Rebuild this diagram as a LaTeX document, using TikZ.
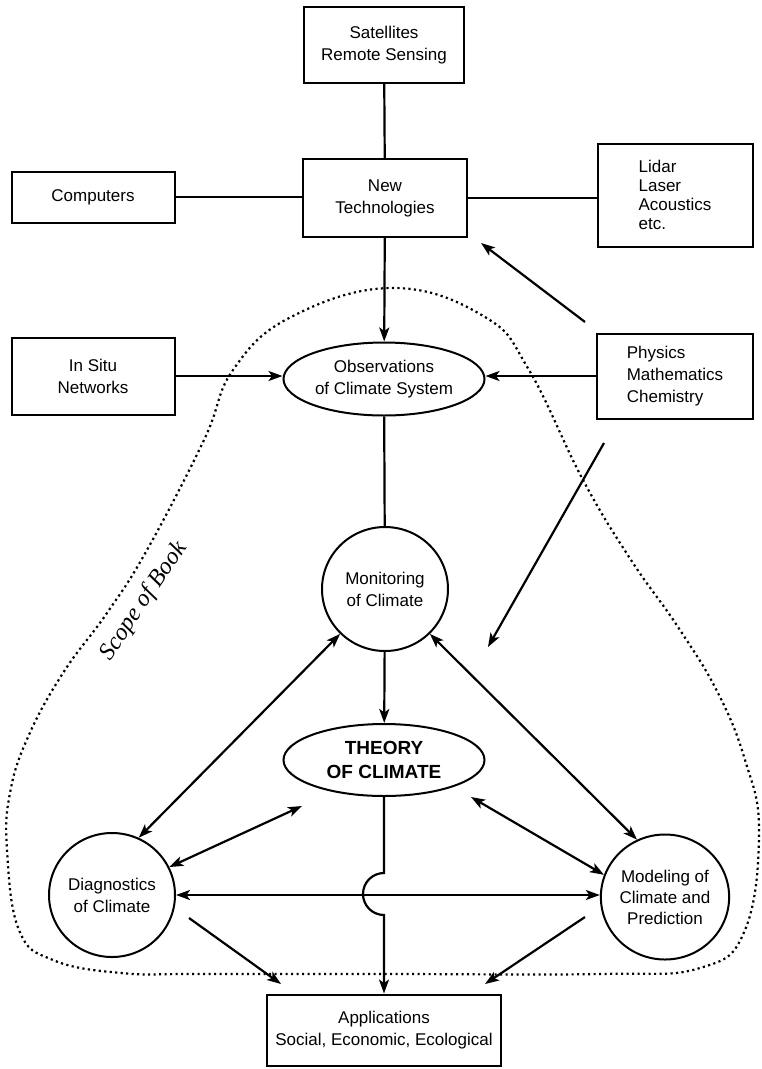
\documentclass[tikz,border=0pt]{standalone}
\usepackage{fontspec}
\setmainfont{Liberation Sans}
\newfontfamily\scopefont{Liberation Serif}
\usetikzlibrary{arrows.meta,positioning,shapes.geometric}

\newcommand{\labelfont}{\fontsize{17}{22}\selectfont}
\newcommand{\theoryfont}{\fontsize{19}{24}\selectfont\bfseries}

\tikzset{
  box/.style={draw, line width=2pt, align=center, inner sep=2pt},
  oval/.style={draw, ellipse, line width=2pt, align=center, inner sep=0pt},
  link/.style={line width=2.2pt},
  arr/.style={link, -{Stealth[length=14pt,width=10pt,inset=3.5pt]}},
  darr/.style={link, {Stealth[length=14pt,width=10pt,inset=3.5pt]}-{Stealth[length=14pt,width=10pt,inset=3.5pt]}},
  scopeline/.style={line width=2.2pt, dash pattern=on 2.2pt off 3.3pt},
}

\begin{document}
\begin{tikzpicture}[x=1pt, y=-1pt, every node/.style={font=\labelfont}]
        \useasboundingbox (0,0) rectangle (761,1069);

        % Scope of book
        \draw[scopeline] plot[smooth cycle, tension=0.7] coordinates {
            (393,288) (485,317) (529,370) (583,480) (631,560) (678,627)
            (718,693) (745,760) (759,830) (745,930) (700,968) (600,974)
            (384,974) (200,974) (121,973) (53,960) (19,930) (7,850)
            (10,793) (28,737) (63,673) (107,613) (147,550) (204,440) (233,370) (291,317)};
        \node[font=\scopefont\itshape\fontsize{24}{24}\selectfont, rotate=56] (scope) at (144,601) {Scope of Book};

        % Technologies
        \node[box, minimum width=160pt, minimum height=76pt] (sat) at (384,45) {Satellites\\Remote Sensing};
        \node[box, minimum width=164pt, minimum height=78pt] (tech) at (385,198) {New\\Technologies};
        \node[box, minimum width=163pt, minimum height=51pt] (comp) at (93,197) {Computers};
        \node[box, minimum width=155pt, minimum height=103pt, align=left, font=\fontsize{17}{19}\selectfont] (lidar) at (675,195) {Lidar\\Laser\\Acoustics\\etc.};

        % Observations
        \node[box, minimum width=163pt, minimum height=77pt] (situ) at (93,376) {In Situ\\Networks};
        \node[box, minimum width=156pt, minimum height=85pt, align=left] (phys) at (675,376) {Physics\\Mathematics\\Chemistry};
        \node[oval, minimum width=201pt, minimum height=73pt] (obs) at (384,379) {Observations\\of Climate System};

        % Climate circles
        \node[oval, minimum width=126pt, minimum height=124pt] (mon) at (385,589) {Monitoring\\of Climate};
        \node[oval, minimum width=201pt, minimum height=72pt, font=\theoryfont] (theory) at (384,760) {THEORY\\OF CLIMATE};
        \node[oval, minimum width=126pt, minimum height=124pt] (diag) at (112,895) {Diagnostics\\of Climate};
        \node[oval, minimum width=127pt, minimum height=125pt, font=\fontsize{17}{21}\selectfont] (model) at (665,897) {Modeling of\\Climate and\\Prediction};
        \node[box, minimum width=234pt, minimum height=71pt] (app) at (384,1030) {Applications\\Social, Economic, Ecological};

        % Free ends
        \coordinate (physfoot) at (585,322);
        \coordinate (techtip) at (481,243);
        \coordinate (physlow) at (604,443);
        \coordinate (montip) at (488,647);
        \coordinate (theotipl) at (302,806);
        \coordinate (theotipr) at (471,797);
        \coordinate (jumptop) at (384,873);
        \coordinate (diagfoot) at (189,918);
        \coordinate (apptipl) at (281,984);
        \coordinate (modelfoot) at (585,917);
        \coordinate (apptipr) at (485,984);

        % Connectors
        \draw[link] (sat) -- (tech);
        \draw[link] (comp.east) -- (comp.east -| tech.west);
        \draw[link] (tech.east) -- (tech.east -| lidar.west);
        \draw[arr] (tech) -- (obs);
        \draw[arr] (situ.east) -- (situ.east -| obs.west);
        \draw[arr] (phys.west) -- (phys.west -| obs.east);
        \draw[arr] (physfoot) -- (techtip);
        \draw[arr] (physlow) -- (montip);
        \draw[link] (obs) -- (mon);
        \draw[arr] (mon) -- (theory);
        \draw[darr] (mon.225) -- (diag.65);
        \draw[darr] (mon.315) -- (model.116);
        \draw[darr] (diag.26) -- (theotipl);
        \draw[darr] (model.160) -- (theotipr);
        \draw[darr] (diag.east) -- (diag.east -| model.west);
        \draw[arr] (theory) -- (jumptop) arc[start angle=90, end angle=270, radius=21pt] -- (app);
        \draw[arr] (diagfoot) -- (apptipl);
        \draw[arr] (modelfoot) -- (apptipr);
\end{tikzpicture}
\end{document}
